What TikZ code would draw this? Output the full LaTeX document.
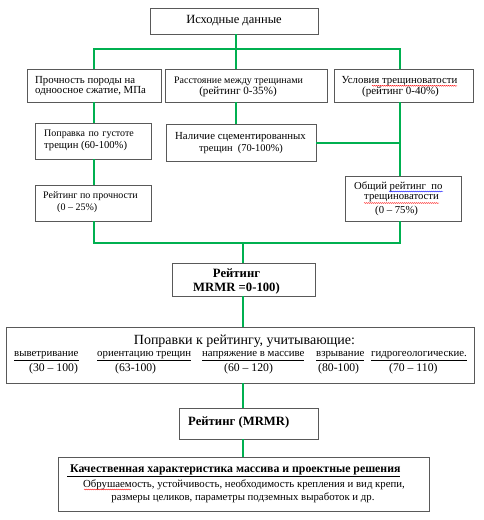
\documentclass[tikz,border=0pt]{standalone}
\usepackage{fontspec}
\setmainfont{Liberation Serif}
\usetikzlibrary{decorations.pathmorphing}
\newcommand\fsz[1]{\fontsize{#1}{#1}\selectfont}
\definecolor{lnGreen}{RGB}{0,176,80}
\begin{document}
\begin{tikzpicture}[x=1pt,y=-1pt,
  box/.style={draw=black!65,line width=0.8pt,inner sep=0pt,fill=white},
  g/.style={draw=lnGreen,line width=1.6pt},
  t/.style={inner sep=0pt,font=\fsz{10.8}},
  tl/.style={t,anchor=west},
  big/.style={inner sep=0pt,font=\fsz{12.5}},
  bigb/.style={inner sep=0pt,font=\fsz{12.7}\bfseries},
  wav/.style={draw=red,line width=0.4pt,decorate,decoration={snake,segment length=2pt,amplitude=0.45pt}},
  wavb/.style={wav,draw=blue}]
\useasboundingbox (0,0) rectangle (483,520);
% boxes
\node[box,minimum width=168,minimum height=26] (top) at (234,21) {};
\node[box,minimum width=134,minimum height=33] (A) at (94,85.5) {};
\node[box,minimum width=162,minimum height=33] (B) at (246,85.5) {};
\node[box,minimum width=139,minimum height=33] (C) at (403.5,85.5) {};
\node[box,minimum width=116,minimum height=36] (D) at (93,141) {};
\node[box,minimum width=150,minimum height=37] (E) at (241,143) {};
\node[box,minimum width=116,minimum height=36] (F) at (93,203) {};
\node[box,minimum width=116,minimum height=45] (G) at (403,198.5) {};
\node[box,minimum width=143,minimum height=33] (H) at (243.5,279.5) {};
\node[box,minimum width=468,minimum height=56] (I) at (240,355) {};
\node[box,minimum width=139,minimum height=31] (J) at (248.5,423.5) {};
\node[box,minimum width=371,minimum height=54] (K) at (243.5,484) {};
% connector coordinates
\coordinate (b1) at (94,49);
\coordinate (j1) at (236,49);
\coordinate (b2) at (400,49);
\coordinate (c1) at (94,243);
\coordinate (c2) at (400,243);
\coordinate (cm) at (243,243);
% connectors
\draw[g] (top.south -| j1) -- (j1);
\draw[g] (A.north -| b1) -- (b1) -- (b2) -- (C.north -| b2);
\draw[g] (j1) -- (B.north -| j1);
\draw[g] (A.south -| b1) -- (D.north -| b1);
\draw[g] (D.south -| b1) -- (F.north -| b1);
\draw[g] (B.south -| j1) -- (E.north -| j1);
\draw[g] (C.south -| b2) -- (G.north -| b2);
\draw[g] (E.east) -- (E.east -| b2);
\draw[g] (F.south -| c1) -- (c1) -- (c2) -- (G.south -| c2);
\draw[g] (cm) -- (H.north -| cm);
\draw[g] (H.south -| cm) -- (I.north -| cm);
\draw[g] (I.south -| cm) -- (J.north -| cm);
\draw[g] (J.south -| cm) -- (K.north -| cm);
% texts
\node[big] (ttop) at (234,21) {Исходные данные};
\node[tl] (ta1) at (35,81) {Прочность породы на};
\node[tl] (ta2) at (35,91.5) {одноосное сжатие, МПа};
\node[t,font=\fsz{10}] (tb1) at (238.5,81) {Расстояние между трещинами};
\node[t,font=\fsz{11.1}] (tb2) at (238,91.5) {(рейтинг 0-35\%)};
\node[t] (tc1) at (399.5,81) {Условия трещиноватости};
\node[t,font=\fsz{11}] (tc2) at (400.5,91.5) {(рейтинг 0-40\%)};
\node[tl,font=\fsz{10}] (td1) at (44,134) {Поправка\hspace{3.5pt}по\hspace{3.5pt}густоте};
\node[tl,font=\fsz{10.6}] (td2) at (44,145.5) {трещин (60-100\%)};
\node[t] (te1) at (240.5,137) {Наличие сцементированных};
\node[t,font=\fsz{10.4}] (te2) at (241,148.5) {трещин\ \ (70-100\%)};
\node[tl,font=\fsz{10}] (tf1) at (43,196) {Рейтинг по прочности};
\node[tl,font=\fsz{10}] (tf2) at (57,208) {(0 -- 25\%)};
\node[tl,font=\fsz{10.7}] (tg1) at (354,187) {Общий рейтинг\ \ по};
\node[tl,font=\fsz{10.7}] (tg2) at (364,198.5) {трещиноватости};
\node[tl,font=\fsz{10.7}] (tg3) at (375,210.5) {(0 -- 75\%)};
\node[bigb] (th1) at (236.5,273.5) {Рейтинг};
\node[bigb] (th2) at (236.5,288) {MRMR =0-100)};
\node[big,font=\fsz{14}] (ti0) at (244.5,341) {Поправки к рейтингу, учитывающие:};
\node[tl] (ti1) at (14,356) {\underline{выветривание}};
\node[tl] (ti2) at (97,356) {\underline{ориентацию трещин}};
\node[tl] (ti3) at (202,356) {\underline{напряжение в массиве}};
\node[tl] (ti4) at (316,356) {\underline{взрывание}};
\node[tl] (ti5) at (371,356) {\underline{гидрогеологические.}};
\node[tl,font=\fsz{11.7}] (tv1) at (29,368.5) {(30 -- 100)};
\node[tl,font=\fsz{11.7}] (tv2) at (115,368.5) {(63-100)};
\node[tl,font=\fsz{11.7}] (tv3) at (224,368.5) {(60 -- 120)};
\node[tl,font=\fsz{11.7}] (tv4) at (318,368.5) {(80-100)};
\node[tl,font=\fsz{11.7}] (tv5) at (389,368.5) {(70 -- 110)};
\node[bigb,anchor=west] (tj) at (188,422) {Рейтинг (MRMR)};
\node[bigb,anchor=west,font=\fsz{11.8}\bfseries] (tk0) at (67,471) {\underline{\ Качественная характеристика массива и проектные решения}};
\node[t] (tk1) at (244,484.5) {Обрушаемость, устойчивость, необходимость крепления и вид крепи,};
\node[t] (tk2) at (243,498) {размеры целиков, параметры подземных выработок и др.};
% spell-check marks
\draw[wav] (372,85.8) -- (457,85.8);
\draw[wavb] (389,191.5) -- (443,191.5);
\draw[wav] (364,203) -- (439,203);
\draw[wav] (84,489.5) -- (131,489.5);
\end{tikzpicture}
\end{document}
